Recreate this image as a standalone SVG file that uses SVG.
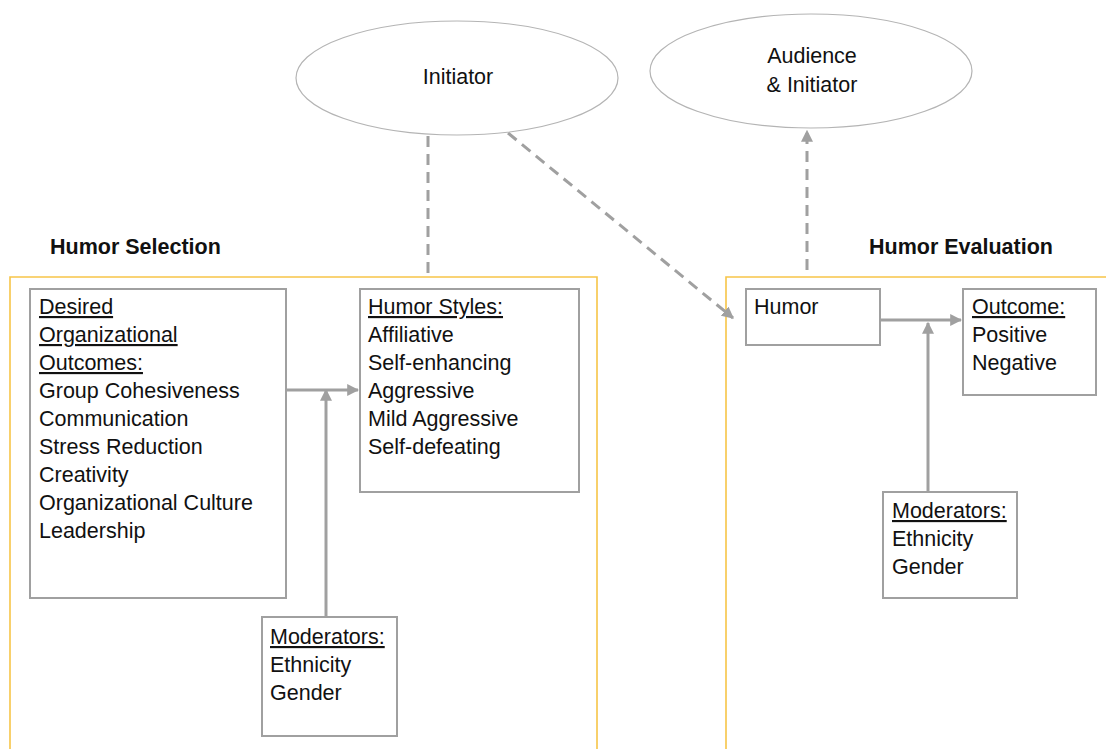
<svg xmlns="http://www.w3.org/2000/svg" width="1106" height="749" viewBox="0 0 1106 749">
  <style>
    text { font-family: "Liberation Sans", Arial, sans-serif; font-size: 21.5px; fill: #111; }
    .hdr { font-weight: bold; }
    .u { text-decoration: underline; }
    .box { fill: #fff; stroke: #a0a0a0; stroke-width: 2; }
    .frame { fill: none; stroke: #f7c548; stroke-width: 1.6; }
    .oval { fill: #fff; stroke: #b4b4b4; stroke-width: 1.2; }
    .solid { fill: none; stroke: #a0a0a0; stroke-width: 3; }
    .dash { fill: none; stroke: #a0a0a0; stroke-width: 3; stroke-dasharray: 11 7; }
  </style>
  <defs>
    <marker id="ah" viewBox="0 0 10 10" refX="9" refY="5" markerWidth="4" markerHeight="4" orient="auto" markerUnits="strokeWidth">
      <path d="M0,0 L10,5 L0,10 z" fill="#a0a0a0"/>
    </marker>
  </defs>
  <rect width="1106" height="749" fill="#fff"/>

  <!-- section frames -->
  <g id="frames">
    <path class="frame" d="M10,749 V277 H597 V749"/>
    <path class="frame" d="M726,749 V277 H1106"/>
    <text class="hdr" x="50" y="254">Humor Selection</text>
    <text class="hdr" x="869" y="254">Humor Evaluation</text>
  </g>

  <!-- connectors -->
  <g id="connectors">
    <line class="dash" x1="428" y1="136" x2="428" y2="277"/>
    <line class="dash" x1="508" y1="133" x2="733" y2="318" marker-end="url(#ah)"/>
    <line class="dash" x1="807" y1="270" x2="807" y2="131" marker-end="url(#ah)"/>
    <line class="solid" x1="286" y1="390" x2="358" y2="390" marker-end="url(#ah)"/>
    <line class="solid" x1="326" y1="617" x2="326" y2="390" marker-end="url(#ah)"/>
    <line class="solid" x1="877" y1="320" x2="961" y2="320" marker-end="url(#ah)"/>
    <line class="solid" x1="928" y1="492" x2="928" y2="323" marker-end="url(#ah)"/>
  </g>

  <g id="initiator">
    <ellipse class="oval" cx="457" cy="78" rx="161" ry="57"/>
    <text x="458" y="84" text-anchor="middle">Initiator</text>
  </g>

  <g id="audience">
    <ellipse class="oval" cx="811" cy="71" rx="161" ry="57"/>
    <text x="812" y="63" text-anchor="middle">Audience</text>
    <text x="812" y="92" text-anchor="middle">&amp; Initiator</text>
  </g>

  <g id="desired-outcomes">
    <rect class="box" x="30" y="289" width="256" height="309"/>
    <text x="39" y="314" class="u">Desired</text>
    <text x="39" y="342" class="u">Organizational</text>
    <text x="39" y="370" class="u">Outcomes:</text>
    <text x="39" y="398">Group Cohesiveness</text>
    <text x="39" y="426">Communication</text>
    <text x="39" y="454">Stress Reduction</text>
    <text x="39" y="482">Creativity</text>
    <text x="39" y="510">Organizational Culture</text>
    <text x="39" y="538">Leadership</text>
  </g>

  <g id="humor-styles">
    <rect class="box" x="360" y="289" width="219" height="203"/>
    <text x="368" y="314" class="u">Humor Styles:</text>
    <text x="368" y="342">Affiliative</text>
    <text x="368" y="370">Self-enhancing</text>
    <text x="368" y="398">Aggressive</text>
    <text x="368" y="426">Mild Aggressive</text>
    <text x="368" y="454">Self-defeating</text>
  </g>

  <g id="moderators-selection">
    <rect class="box" x="262" y="617" width="135" height="119"/>
    <text x="270" y="644" class="u">Moderators:</text>
    <text x="270" y="672">Ethnicity</text>
    <text x="270" y="700">Gender</text>
  </g>

  <g id="humor">
    <rect class="box" x="746" y="289" width="134" height="56"/>
    <text x="754" y="314">Humor</text>
  </g>

  <g id="outcome">
    <rect class="box" x="963" y="289" width="133" height="106"/>
    <text x="972" y="314" class="u">Outcome:</text>
    <text x="972" y="342">Positive</text>
    <text x="972" y="370">Negative</text>
  </g>

  <g id="moderators-evaluation">
    <rect class="box" x="883" y="492" width="134" height="106"/>
    <text x="892" y="518" class="u">Moderators:</text>
    <text x="892" y="546">Ethnicity</text>
    <text x="892" y="574">Gender</text>
  </g>
</svg>
